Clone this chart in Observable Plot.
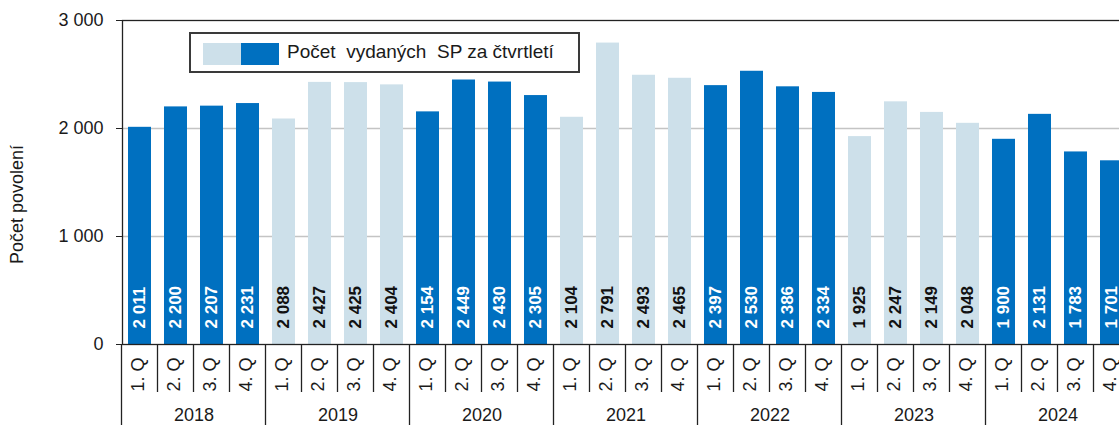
<!DOCTYPE html>
<html>
<head>
<meta charset="utf-8">
<script src="https://cdn.jsdelivr.net/npm/d3@7"></script>
<script src="https://cdn.jsdelivr.net/npm/@observablehq/plot@0.6"></script>
<style>
  html, body { margin: 0; padding: 0; background: white; overflow: hidden; }
  #wrap { position: relative; width: 1119px; height: 425px; overflow: hidden; }
  #legend {
    position: absolute; left: 189px; top: 32px; width: 387px; height: 37px;
    border: 2px solid #3a3a3a; background: white; box-sizing: content-box;
    font-family: "Liberation Sans", Arial, sans-serif; font-size: 19px; color: #1a1a1a;
  }
  #legend .sw { position: absolute; top: 9px; width: 38px; height: 22px; }
  #legend .txt { position: absolute; left: 96px; top: 7px; white-space: pre; }
</style>
</head>
<body>
<div id="wrap"></div>
<script>
const years = [2018, 2019, 2020, 2021, 2022, 2023, 2024];
const quarters = ["1. Q", "2. Q", "3. Q", "4. Q"];
const values = [
  2011, 2200, 2207, 2231,
  2088, 2427, 2425, 2404,
  2154, 2449, 2430, 2305,
  2104, 2791, 2493, 2465,
  2397, 2530, 2386, 2334,
  1925, 2247, 2149, 2048,
  1900, 2131, 1783, 1701
];
const yTicks = [0, 1000, 2000, 3000];
const yLabel = "Počet povolení";
const legendLabel = "Počet  vydaných  SP za čtvrtletí";

const darkBlue = "#0070C0";
const lightBlue = "#CDE0EA";

const locale = d3.formatLocale({decimal: ",", thousands: "\u00a0", grouping: [3], currency: ["", " Kč"]});
const fmt = locale.format(",d");

const keys = years.flatMap(y => quarters.map(q => `${y} ${q}`));
const data = keys.map((k, i) => ({
  key: k,
  year: years[Math.floor(i / 4)],
  q: quarters[i % 4],
  value: values[i],
  dark: Math.floor(i / 4) % 2 === 0
}));

const plot = Plot.plot({
  width: 1130,
  height: 425,
  marginLeft: 122,
  marginRight: 0,
  marginTop: 20,
  marginBottom: 81,
  style: {maxWidth: "none", fontFamily: "'Liberation Sans', Arial, sans-serif", fontSize: "18px", color: "#1a1a1a", background: "white", overflow: "visible"},
  x: {domain: keys, paddingInner: 0.36, paddingOuter: 0.18, axis: null},
  y: {domain: [0, 3000], axis: null},
  color: {type: "identity"},
  marks: [
    Plot.ruleY([1000, 2000], {stroke: "#c4c4c4", strokeWidth: 1.5}),
    Plot.barY(data, {x: "key", y: "value", fill: d => d.dark ? darkBlue : lightBlue}),
    Plot.text(data, {
      x: "key", y: () => 0, text: d => fmt(d.value), rotate: -90, textAnchor: "start", lineAnchor: "middle",
      dy: -16, fill: d => d.dark ? "white" : "#111", fontWeight: "bold", fontSize: 17
    }),
    Plot.frame({stroke: "#222", strokeWidth: 1.3}),
    Plot.axisY(yTicks, {tickFormat: fmt, tickSize: 6, tickPadding: 13, fontSize: 18, label: null, stroke: "#222"}),
    Plot.text([yLabel], {frameAnchor: "left", textAnchor: "middle", lineAnchor: "middle", dx: -105, dy: 22, rotate: -90, fontSize: 18, fill: "#1a1a1a"}),
    Plot.text(data, {x: "key", text: "q", frameAnchor: "bottom", rotate: -90, textAnchor: "end", lineAnchor: "middle", dx: -2, dy: 13, fontSize: 18, fill: "#1a1a1a"}),
    Plot.text(years, {x: d => `${d} ${quarters[1]}`, text: d => String(d), frameAnchor: "bottom", lineAnchor: "middle", dx: 18, dy: 71, fontSize: 18, fill: "#1a1a1a"})
  ]
});

// Category separators below the axis, placed from Plot's x scale
const xs = plot.scale("x");
const gap = (xs.step - xs.bandwidth) / 2;
const bottom = 425 - 81;
const sepG = d3.select(plot).append("g").attr("stroke", "#222").attr("stroke-width", 1.3);
keys.forEach((k, i) => {
  const x = xs.apply(k) - gap;
  const isYear = i % 4 === 0;
  sepG.append("line")
    .attr("x1", x).attr("x2", x)
    .attr("y1", bottom).attr("y2", isYear ? 425 : bottom + 48);
});
{
  const last = keys[keys.length - 1];
  const x = xs.apply(last) + xs.bandwidth + gap;
  sepG.append("line").attr("x1", x).attr("x2", x).attr("y1", bottom).attr("y2", 425);
}

const wrap = document.getElementById("wrap");
wrap.appendChild(plot);

const legend = document.createElement("div");
legend.id = "legend";
legend.innerHTML = `<div class="sw" style="left:12px;background:${lightBlue}"></div>` +
  `<div class="sw" style="left:50px;background:${darkBlue}"></div>` +
  `<div class="txt"></div>`;
legend.querySelector(".txt").textContent = legendLabel;
wrap.appendChild(legend);
</script>
</body>
</html>
